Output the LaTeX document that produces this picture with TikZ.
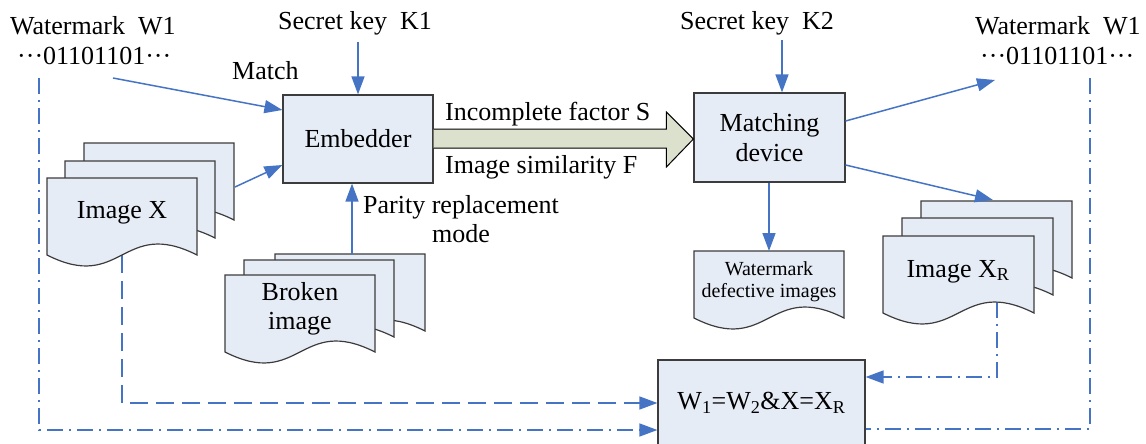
\documentclass[tikz,border=0pt]{standalone}
\usepackage{fontspec}
\setmainfont{Liberation Serif}
\usetikzlibrary{arrows.meta,calc}
\definecolor{lineblue}{RGB}{70,116,196}
\definecolor{boxfill}{RGB}{230,236,246}
\definecolor{boxline}{RGB}{60,60,60}
\definecolor{arrowfill}{RGB}{220,225,205}
\newcommand\cdt{\hbox to 1em{\hss·\hss·\hss·\hss}}
\newcommand\docshape[4]{%
  \draw[docline] (#1,#2) -- ({#1+#3},#2) -- ({#1+#3},{#2+#4})
    .. controls ({#1+0.5*#3},{#2+#4-38}) and ({#1+0.5*#3},{#2+#4+38}) .. (#1,{#2+#4}) -- cycle;}
\tikzset{
  docline/.style={draw=boxline, fill=boxfill, line width=1.2pt},
  box/.style={draw=boxline, fill=boxfill, line width=1.2pt, inner sep=0pt},
  conn/.style={draw=lineblue, line width=1.5pt},
  tip/.style={-{Triangle[length=18pt,width=13pt]}},
  arr/.style={conn, tip},
  dashedconn/.style={conn, dash pattern=on 18pt off 8pt},
  dashdot/.style={conn, dash pattern=on 16pt off 6pt on 2pt off 6pt},
  lbl/.style={inner sep=0pt},
  smalllbl/.style={inner sep=0pt, font=\fontsize{20}{22}\selectfont, align=center},
  bigarrow/.style={draw=black, fill=arrowfill, line width=1pt, line join=miter},
}
\begin{document}
\begin{tikzpicture}[x=1pt,y=-1pt,font=\fontsize{26}{29.5}\selectfont]
\useasboundingbox (0,0) rectangle (1146,444);
\clip (0,0) rectangle (1146,444);

% ---- dashed feedback lines (drawn first, documents cover their starts)
\coordinate (xB) at (122,255);
\coordinate (wLB) at (39,78);
\coordinate (xrB) at (997,302);
\coordinate (wRB) at (1090,78);

% ---- boxes
\node[box, minimum width=150pt, minimum height=88pt] (emb) at (358,139) {Embedder};
\node[box, minimum width=151pt, minimum height=89pt, align=center] (match) at (769.5,137.5) {Matching\\device};
\node[box, minimum width=207pt, minimum height=86pt] (res) at (761.5,403) {W\textsubscript{1}=W\textsubscript{2}\&X=X\textsubscript{R}};

\draw[dashedconn, tip] (xB) |- (res.west);
\draw[dashdot, tip] (wLB) |- ([yshift=-27pt]res.west);
\draw[dashdot, tip] (xrB) |- ([yshift=26pt]res.east);
\draw[dashdot] (wRB) |- ([yshift=-26pt]res.east);

% ---- document stacks
\docshape{84}{143}{150}{77}
\docshape{65}{161}{150}{77}
\docshape{47}{178}{150}{77}
\node[lbl, anchor=base] (imgX) at (122,218) {Image X};

\docshape{275}{254}{150}{77}
\docshape{244}{260}{150}{77}
\docshape{225}{275}{150}{77}
\node[lbl, anchor=north, align=center] (broken) at (300,282) {Broken\\image};

\docshape{921}{201}{151}{77}
\docshape{902}{218}{151}{77}
\docshape{883}{236}{151}{77}
\node[lbl, anchor=base] (imgXR) at (958,277) {Image X\textsubscript{R}};

\docshape{694}{251}{150}{67}
\node[smalllbl, anchor=north] (defect) at (769,261) {Watermark\\defective images};

% ---- texts
\node[lbl, anchor=base west] (wL) at (10,35) {Watermark\ \ W1};
\node[lbl, anchor=base west] (dL) at (17,64) {\cdt01101101\cdt};
\node[lbl, anchor=base west] (matchlbl) at (232,80) {Match};
\node[lbl, anchor=base west] (k1) at (278,30) {Secret key\ \ K1};
\node[lbl, anchor=base west] (k2) at (680,30) {Secret key\ \ K2};
\node[lbl, anchor=base west] (wR) at (975,35) {Watermark\ \ W1};
\node[lbl, anchor=base west] (dR) at (980,64) {\cdt01101101\cdt};
\node[lbl, anchor=base west] (incomp) at (445,120) {Incomplete factor S};
\node[lbl, anchor=base west] (simil) at (445,173) {Image similarity F};
\node[lbl, anchor=north, align=center] (parity) at (461,195) {Parity replacement\\mode};

% ---- connectors
\coordinate (mA) at (113,78);
\draw[arr] (mA) -- ([yshift=29pt]emb.west);
\coordinate (xA) at (235,187);
\draw[arr] (xA) -- ([yshift=-26pt]emb.west);
\coordinate (k1s) at (358,42);
\draw[arr] (k1s) -- (emb.north);
\coordinate (k2s) at (782,40);
\draw[arr] (k2s) -- (k2s |- match.north);
\coordinate (bs) at (352,254);
\draw[arr] (bs) -- (bs |- emb.south);
\coordinate (wRin) at (995,80);
\draw[arr] ([yshift=16.5pt]match.east) -- (wRin);
\coordinate (xRin) at (993,200);
\draw[arr] ([yshift=-27.5pt]match.east) -- (xRin);
\coordinate (dTop) at (769,251);
\draw[arr] (dTop |- match.south) -- (dTop);

% ---- thick transfer arrow
\coordinate (ta) at (emb.east);
\coordinate (tb) at (match.west |- emb.east);
\draw[bigarrow] ($(ta)+(0,-10)$) -- ($(tb)+(-27,-10)$) -- ($(tb)+(-27,-27)$) -- (tb)
  -- ($(tb)+(-27,28)$) -- ($(tb)+(-27,9)$) -- ($(ta)+(0,9)$);
\end{tikzpicture}
\end{document}
